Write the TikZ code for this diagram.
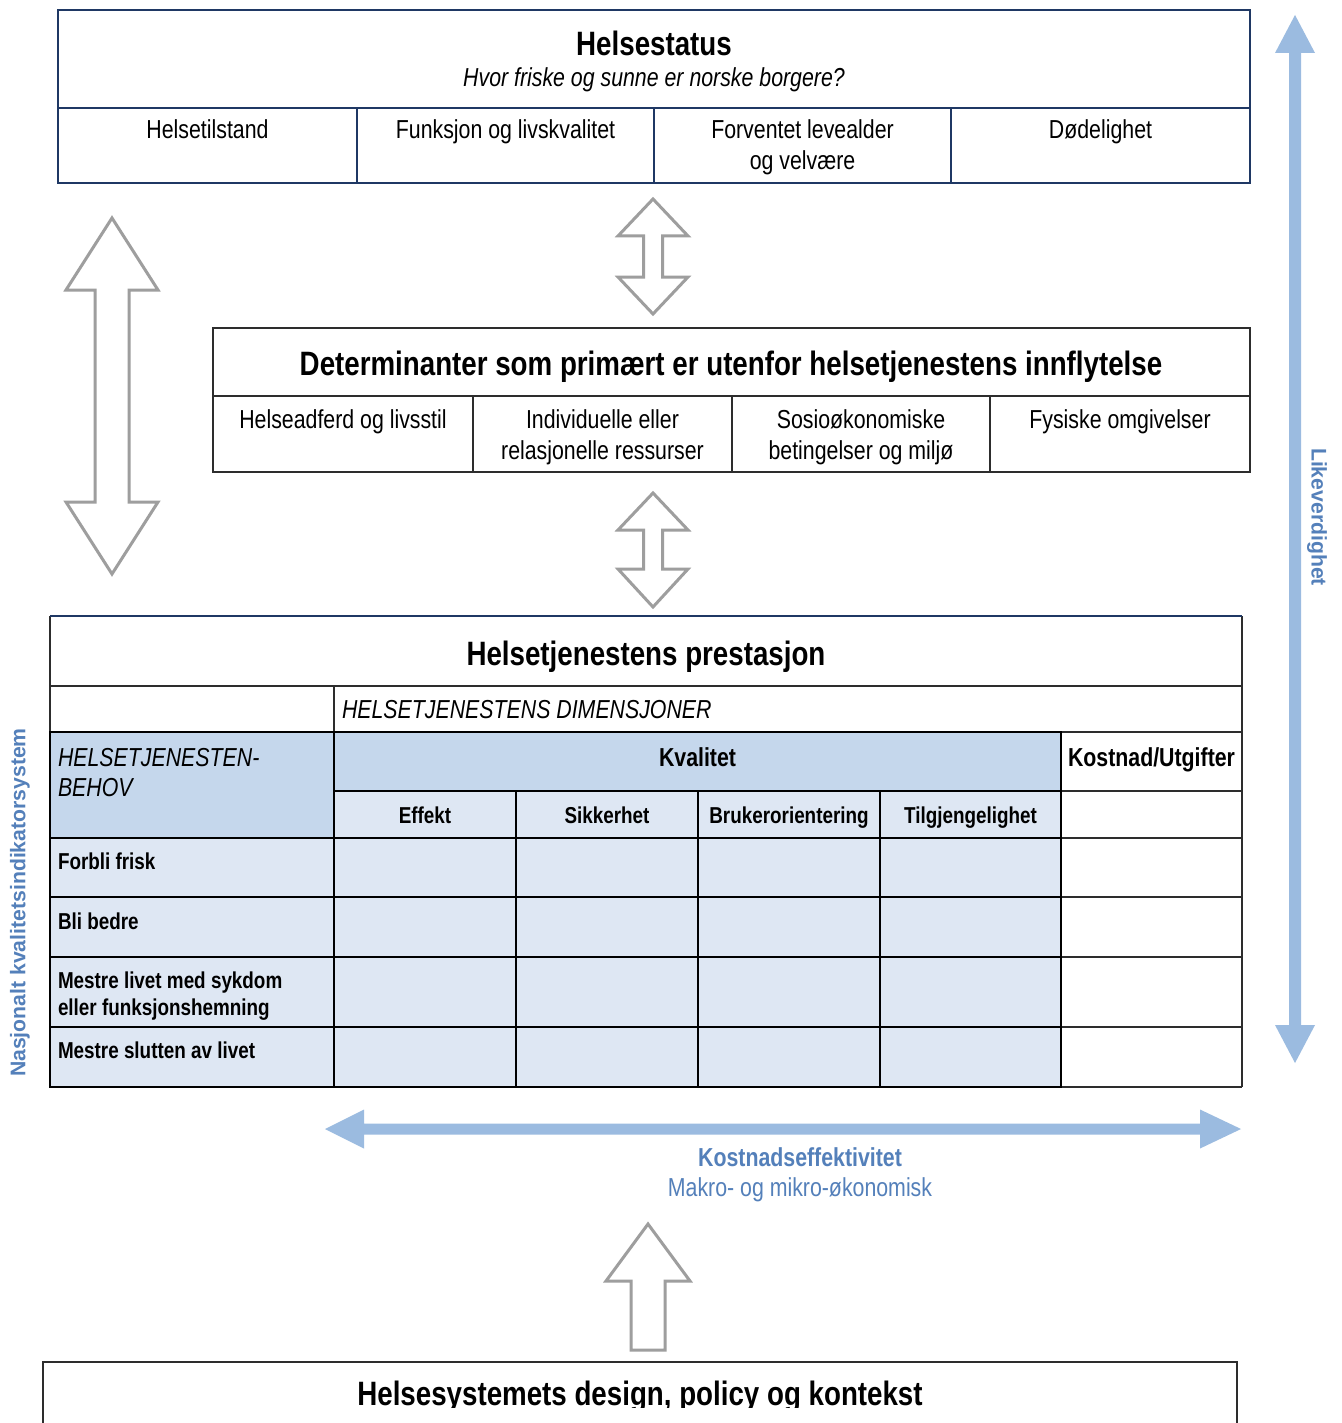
\documentclass[tikz,border=0pt]{standalone}
\usepackage{fontspec}
\setmainfont{Liberation Sans}[FakeStretch=0.82]
\newfontfamily\widesans{Liberation Sans}
\newcommand\fsTitle{\fontsize{33.8}{38}\selectfont}
\newcommand\fsBody{\fontsize{26}{31}\selectfont}
\newcommand\fsCell{\fontsize{23}{27}\selectfont}
\newcommand\fsSide{\fontsize{21.2}{25}\selectfont}

\definecolor{frameblue}{RGB}{31,56,100}
\definecolor{arrowgray}{RGB}{158,158,158}
\definecolor{paleblue}{RGB}{155,187,224}
\definecolor{labelblue}{RGB}{84,128,186}
\definecolor{midfill}{RGB}{197,215,236}
\definecolor{lightfill}{RGB}{222,231,243}
\definecolor{gridline}{RGB}{45,45,45}

% vertical block arrow with heads at both ends:
% centre x, half shaft width, half head width, top tip, upper head base, lower head base, bottom tip
\newcommand\vdblarrow[7]{%
  \draw[blockarrow] (#1,#4) -- ({#1+#3},#5) -- ({#1+#2},#5) -- ({#1+#2},#6) -- ({#1+#3},#6)
    -- (#1,#7) -- ({#1-#3},#6) -- ({#1-#2},#6) -- ({#1-#2},#5) -- ({#1-#3},#5) -- cycle;}

\begin{document}
\begin{tikzpicture}[x=1pt,y=-1pt,
  every node/.style={inner sep=0pt,outer sep=0pt,text=black},
  blockarrow/.style={draw=arrowgray,line width=3pt,fill=white,line join=miter},
  title/.style={font=\fsTitle\bfseries,anchor=base},
  body/.style={font=\fsBody,align=center,anchor=north},
  head/.style={font=\fsBody\bfseries,anchor=base},
  cellhead/.style={font=\fsCell\bfseries,anchor=base},
  rowlabel/.style={font=\fsCell\bfseries,anchor=base west},
  thin/.style={draw=gridline,line width=1.2pt},
  thick/.style={draw=black,line width=2.2pt},
  bluetext/.style={text=labelblue}]
\useasboundingbox (0,0) rectangle (1341,1423);
\fill[white] (0,0) rectangle (1341,1423);

% ---------- Helsestatus ----------
\draw[frameblue,line width=2.6pt] (58,10) rectangle (1250,183);
\draw[frameblue,line width=2.6pt] (58,108) -- (1250,108)
  (357,108) -- (357,183) (654,108) -- (654,183) (951,108) -- (951,183);
\node[title] (hs) at (654,56) {Helsestatus};
\node[font=\fsBody\itshape,anchor=base] (hssub) at (654,87) {Hvor friske og sunne er norske borgere?};
\node[body] (hs1) at (207.5,120) {Helsetilstand};
\node[body] (hs2) at (505.5,120) {Funksjon og livskvalitet};
\node[body] (hs3) at (802.5,120) {Forventet levealder\\og velvære};
\node[body] (hs4) at (1100.5,120) {Dødelighet};

% ---------- Determinanter ----------
\draw[gridline,line width=1.5pt] (213,328) rectangle (1250,472);
\draw[gridline,line width=1.5pt] (213,396) -- (1250,396)
  (473,396) -- (473,472) (732,396) -- (732,472) (990,396) -- (990,472);
\node[title] (det) at (731,375) {Determinanter som primært er utenfor helsetjenestens innflytelse};
\node[body] (det1) at (343,410) {Helseadferd og livsstil};
\node[body] (det2) at (602.5,410) {Individuelle eller\\relasjonelle ressurser};
\node[body] (det3) at (861,410) {Sosioøkonomiske\\betingelser og miljø};
\node[body] (det4) at (1120,410) {Fysiske omgivelser};

% ---------- grey block arrows ----------
\vdblarrow{112}{17}{46}{218}{290}{502}{574}
\vdblarrow{653}{9.5}{35}{199}{236}{277}{314}
\vdblarrow{653}{9.5}{35}{493}{530}{569}{607}
\draw[blockarrow] (648,1224) -- (690,1281) -- (665,1281) -- (665,1350) -- (631,1350)
  -- (631,1281) -- (606,1281) -- cycle;

% ---------- Helsetjenestens prestasjon (table) ----------
\fill[midfill] (50,732) rectangle (334,838);
\fill[midfill] (334,732) rectangle (1061,791);
\fill[lightfill] (334,791) rectangle (1061,838);
\fill[lightfill] (50,838) rectangle (1061,1087);

\draw[thin] (50,616) -- (50,732) (1242,616) -- (1242,1087)
  (50,686) -- (1242,686) (334,686) -- (334,732)
  (1061,732) -- (1242,732) (1061,791) -- (1242,791) (1061,838) -- (1242,838)
  (1061,897) -- (1242,897) (1061,957) -- (1242,957) (1061,1027) -- (1242,1027)
  (1061,1087) -- (1242,1087);
\draw[frameblue,line width=2pt] (50,616) -- (1242,616);
\draw[draw=black,line width=1.6pt] (334,791) -- (1061,791);
\draw[thick] (50,732) rectangle (1061,1087)
  (334,732) -- (334,1087)
  (516,791) -- (516,1087) (698,791) -- (698,1087) (880,791) -- (880,1087)
  (50,838) -- (1061,838) (50,897) -- (1061,897) (50,957) -- (1061,957) (50,1027) -- (1061,1027);

\node[title] (perf) at (646,665) {Helsetjenestens prestasjon};
\node[font=\fsBody\itshape,anchor=base west] (dim) at (342,718) {HELSETJENESTENS DIMENSJONER};
\node[font=\fsBody\itshape,anchor=base west] (need1) at (58,766) {HELSETJENESTEN-};
\node[font=\fsBody\itshape,anchor=base west] (need2) at (58,796) {BEHOV};
\node[head] (kval) at (697.5,766) {Kvalitet};
\node[head] (kost) at (1151.5,766) {Kostnad/Utgifter};
\node[cellhead] (eff) at (425,823) {Effekt};
\node[cellhead] (sik) at (607,823) {Sikkerhet};
\node[cellhead] (bruk) at (789,823) {Brukerorientering};
\node[cellhead] (tilg) at (970.5,823) {Tilgjengelighet};
\node[rowlabel] (r1) at (58,869) {Forbli frisk};
\node[rowlabel] (r2) at (58,929) {Bli bedre};
\node[rowlabel] (r3a) at (58,988) {Mestre livet med sykdom};
\node[rowlabel] (r3b) at (58,1015) {eller funksjonshemning};
\node[rowlabel] (r4) at (58,1058) {Mestre slutten av livet};

% ---------- side labels ----------
\node[font=\widesans\fsSide\bfseries,bluetext,rotate=90] (nkis) at (20,902.5) {Nasjonalt kvalitetsindikatorsystem};
\node[font=\widesans\fsSide\bfseries,bluetext,rotate=-90] (likev) at (1317,517) {Likeverdighet};

% ---------- pale blue arrows ----------
\fill[paleblue] (1295,15) -- (1315,53) -- (1301,53) -- (1301,1025) -- (1315,1025)
  -- (1295,1063) -- (1275,1025) -- (1289,1025) -- (1289,53) -- (1275,53) -- cycle;
\fill[paleblue] (325,1129) -- (364,1109.5) -- (364,1123.5) -- (1200,1123.5) -- (1200,1109.5)
  -- (1241,1129) -- (1200,1148.5) -- (1200,1134.5) -- (364,1134.5) -- (364,1148.5) -- cycle;
\node[head,bluetext] (keff) at (800,1166) {Kostnadseffektivitet};
\node[font=\fsBody,anchor=base,bluetext] (makro) at (800,1196) {Makro- og mikro-økonomisk};

% ---------- Helsesystemets design ----------
\draw[gridline,line width=1.3pt] (43,1430) -- (43,1362) -- (1237,1362) -- (1237,1430);
\begin{scope}
  \clip (0,1362) rectangle (1341,1407);
  \node[title] (design) at (640,1405) {Helsesystemets design, policy og kontekst};
\end{scope}
\end{tikzpicture}
\end{document}
